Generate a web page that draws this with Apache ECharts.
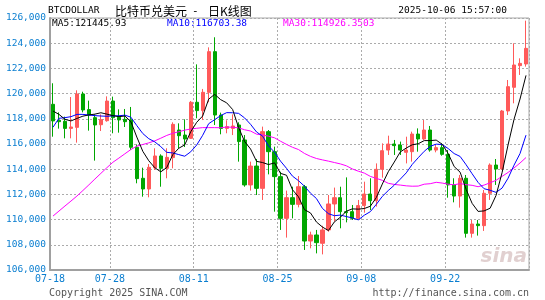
<!DOCTYPE html>
<html><head><meta charset="utf-8">
<script src="https://cdn.jsdelivr.net/npm/echarts@6/dist/echarts.min.js"></script>
<style>html,body{margin:0;padding:0;background:#fff}#c{width:545px;height:300px}</style>
</head><body><div id="c"></div>
<script>
const dates = ['07-18','07-19','07-20','07-21','07-22','07-23','07-24','07-25','07-26','07-27',
'07-28','07-29','07-30','07-31','08-01','08-02','08-03','08-04','08-05','08-06',
'08-07','08-08','08-09','08-10','08-11','08-12','08-13','08-14','08-15','08-16',
'08-17','08-18','08-19','08-20','08-21','08-22','08-23','08-24','08-25','08-26',
'08-27','08-28','08-29','08-30','08-31','09-01','09-02','09-03','09-04','09-05',
'09-06','09-07','09-08','09-09','09-10','09-11','09-12','09-13','09-14','09-15',
'09-16','09-17','09-18','09-19','09-20','09-21','09-22','09-23','09-24','09-25',
'09-26','09-27','09-28','09-29','09-30','10-01','10-02','10-03','10-04','10-05'];
const tickDates = ['07-18','07-28','08-11','08-25','09-08','09-22'];
const opens = [119150,117880,117800,117240,117320,119970,118730,118090,117530,117850,
119410,118120,117960,117910,115740,113280,112430,114120,115050,114070,
114920,117110,116710,116450,119310,118650,120100,123330,118300,117240,
117240,117510,116320,112750,114250,112480,116980,115390,113410,110100,
111740,111210,112610,108300,108780,108120,109180,111240,111740,110630,
110630,110100,111110,112030,111500,113990,115520,116000,115920,115340,
115390,116790,116400,117110,115520,115710,115180,112750,111870,113280,
108910,109650,109520,112090,114330,114020,118620,120500,122220,122350];
const closes = [117830,117770,117240,117350,119970,118700,118300,117510,117930,119410,
118090,117910,117770,115740,113250,112430,114150,115050,114070,114940,
117560,116660,116400,119310,118650,120100,123330,118300,117240,117380,
117430,116190,112750,114250,112480,116980,115390,113410,110100,111740,
111210,112610,108300,108780,108170,109180,111240,111740,110630,110550,
110100,111110,112030,111500,113990,115470,116000,115870,115520,115520,
116790,116400,117110,115520,115710,115180,112750,111870,113280,108910,
109650,109520,112090,114330,114020,118620,120550,122270,122400,123590];
const lows = [116580,117220,116450,116450,116110,118510,117060,114680,117030,117770,
116850,116900,117350,115520,112880,111820,111770,113940,112610,113280,
114070,115660,115760,116400,118040,117900,119310,117510,116770,116850,
116710,114600,112610,112300,111950,111560,113590,110630,109180,108570,
110100,110970,107590,107720,107320,107240,109040,109840,109310,109780,
109970,110050,110550,110760,111030,113330,115130,115130,115130,114460,
114600,115390,116320,115390,115340,115070,111740,111370,110950,108570,
108570,108730,109100,111560,112750,113940,118300,119230,121480,122140];
const highs = [120820,118510,118170,119730,120260,120150,119440,118350,118350,119780,
119760,118750,118780,118940,115970,114120,114410,115660,115180,115660,
117720,117640,117960,119410,122320,120370,123670,124470,118490,117880,
118350,117720,116710,114600,114810,117380,117110,115790,113800,112300,
112610,113460,112750,109040,109180,109510,111950,112540,112610,113350,
111160,111560,113010,113280,114460,116050,116660,116320,116190,116580,
116980,117240,117900,117430,115920,116050,115520,113280,113540,113540,
109970,109970,112350,114460,114810,118700,121080,123990,122800,125790];
const ma5 = [118620,118350,117960,117830,118030,118210,118310,118370,118480,118370,
118250,118170,118220,117780,116550,115420,114670,114120,113790,114130,
115150,115660,115930,116970,117720,118220,119560,119940,119520,119270,
118740,117310,116200,115600,114620,114530,114370,114500,113670,113520,
112370,111810,110790,110530,109810,109410,109130,109820,110190,110670,
110850,110830,110880,111060,111750,112820,113800,114570,115370,115680,
115940,116020,116270,116270,116310,115980,115250,114210,113760,112400,
111290,110650,110690,110900,111920,113720,115920,117960,119570,121446];
const ma10 = [117330,118040,118090,118170,118350,118350,118300,118250,118220,118200,
118230,118240,118290,118130,117460,116830,116420,116170,115790,115340,
115290,115160,115030,115380,115920,116690,117610,117930,118250,118490,
118480,118430,118070,117560,116950,116630,115840,115350,114640,114070,
113450,113090,112650,112100,111670,110890,110470,110310,110360,110240,
110130,109980,110350,110630,111210,111840,112310,112730,113210,113710,
114380,114910,115420,115820,115990,115960,115640,115240,115010,114350,
113640,112950,112450,112330,112160,112500,113280,114320,115240,116703];
const ma30 = [110280,110680,111080,111470,111870,112310,112760,113220,113670,114120,
114550,114880,115220,115560,115830,115960,116090,116250,116460,116680,
116850,116970,117100,117190,117250,117300,117300,117300,117290,117345,
117330,117280,117130,117030,116780,116720,116620,116490,116220,115970,
115740,115560,115250,115020,114850,114740,114640,114530,114420,114270,
114020,113840,113690,113430,113270,113120,112880,112790,112740,112680,
112650,112660,112810,112850,112960,112900,112810,112760,112860,112770,
112720,112610,112740,112920,113120,113430,113740,114100,114490,114926];
const legendTexts = ['MA5:121445.93','MA10:116703.38','MA30:114926.3503'];
const symbolName = 'BTCDOLLAR';
const titleParts = ['比特币兑美元','-','日K线图'];
const stamp = '2025-10-06 15:57:00';
const copyright = 'Copyright 2025 SINA.COM';
const url = 'http://finance.sina.com.cn';

const candles = dates.map((d, i) => [opens[i], closes[i], lows[i], highs[i]]);
const mono = '"DejaVu Sans Mono", "Liberation Mono", monospace';
const blue = '#0a7ed0';
const grid = '#ababab';
const lineStyle = (c) => ({ type: 'line', data: null, showSymbol: false, symbol: 'none', lineStyle: { color: c, width: 1 }, silent: true });

const chart = echarts.init(document.getElementById('c'), null, { renderer: 'canvas' });
chart.setOption({
  animation: false,
  backgroundColor: '#fff',
  grid: { left: 50, top: 18, width: 479, height: 252, show: true, borderColor: '#a8a8a8', borderWidth: 1 },
  xAxis: {
    type: 'category', data: dates, boundaryGap: true,
    axisLine: { lineStyle: { color: '#a0a0a0', width: 2 } },
    axisTick: { show: false },
    axisLabel: { interval: (i, v) => tickDates.includes(v), color: blue, fontFamily: mono, fontSize: 10, margin: 4, padding: [0, 6, 0, 0] },
    splitLine: { show: true, interval: (i, v) => tickDates.includes(v) && i > 0, lineStyle: { color: grid, type: [2, 2], width: 1 } }
  },
  yAxis: {
    type: 'value', min: 106000, max: 126000, interval: 2000, scale: true,
    axisLine: { show: true, lineStyle: { color: '#a0a0a0', width: 2 } },
    axisTick: { show: false },
    axisLabel: { color: blue, fontFamily: mono, fontSize: 9.5, margin: 4 },
    splitLine: { show: true, lineStyle: { color: grid, type: [2, 2], width: 1 } }
  },
  series: [
    {
      type: 'candlestick', data: candles, barWidth: 3.7, silent: true,
      itemStyle: { color: '#ff5a5a', borderColor: '#ff5a5a', color0: '#00a600', borderColor0: '#00a600', borderWidth: 1 }
    },
    Object.assign(lineStyle('#ff00ff'), { data: ma30 }),
    Object.assign(lineStyle('#0000ff'), { data: ma10 }),
    Object.assign(lineStyle('#000000'), { data: ma5 })
  ],
  graphic: [
    { type: 'text', x: 48, y: 11, style: { text: symbolName, font: '9.5px ' + mono, fill: '#000', verticalAlign: 'middle' } },
    { type: 'text', x: 115, y: 11, style: { text: titleParts[0], font: '12px "Noto Sans CJK SC"', fill: '#000', verticalAlign: 'middle' } },
    { type: 'text', x: 192, y: 11, style: { text: titleParts[1], font: '11px ' + mono, fill: '#000', verticalAlign: 'middle' } },
    { type: 'text', x: 208, y: 11, style: { text: titleParts[2], font: '12px "Noto Sans CJK SC"', fill: '#000', verticalAlign: 'middle' } },
    { type: 'text', x: 507, y: 11, style: { text: stamp, font: '9.5px ' + mono, fill: '#000', align: 'right', verticalAlign: 'middle' } },
    { type: 'text', x: 52, y: 24, style: { text: legendTexts[0], font: '9.5px ' + mono, fill: '#000', verticalAlign: 'middle' } },
    { type: 'text', x: 167, y: 24, style: { text: legendTexts[1], font: '9.5px ' + mono, fill: '#0000ff', verticalAlign: 'middle' } },
    { type: 'text', x: 283, y: 24, style: { text: legendTexts[2], font: '9.5px ' + mono, fill: '#ff00ff', verticalAlign: 'middle' } },
    { type: 'text', x: 49, y: 293, style: { text: copyright, font: '10px ' + mono, fill: '#555', verticalAlign: 'middle' } },
    { type: 'text', x: 529, y: 293, style: { text: url, font: '10px ' + mono, fill: '#555', align: 'right', verticalAlign: 'middle' } },
    { type: 'text', x: 527, y: 257, z: 0, style: { text: 'sina', font: 'italic bold 20px "DejaVu Sans"', fill: 'rgba(200,170,170,0.55)', align: 'right', verticalAlign: 'middle' } }
  ]
});
</script></body></html>
